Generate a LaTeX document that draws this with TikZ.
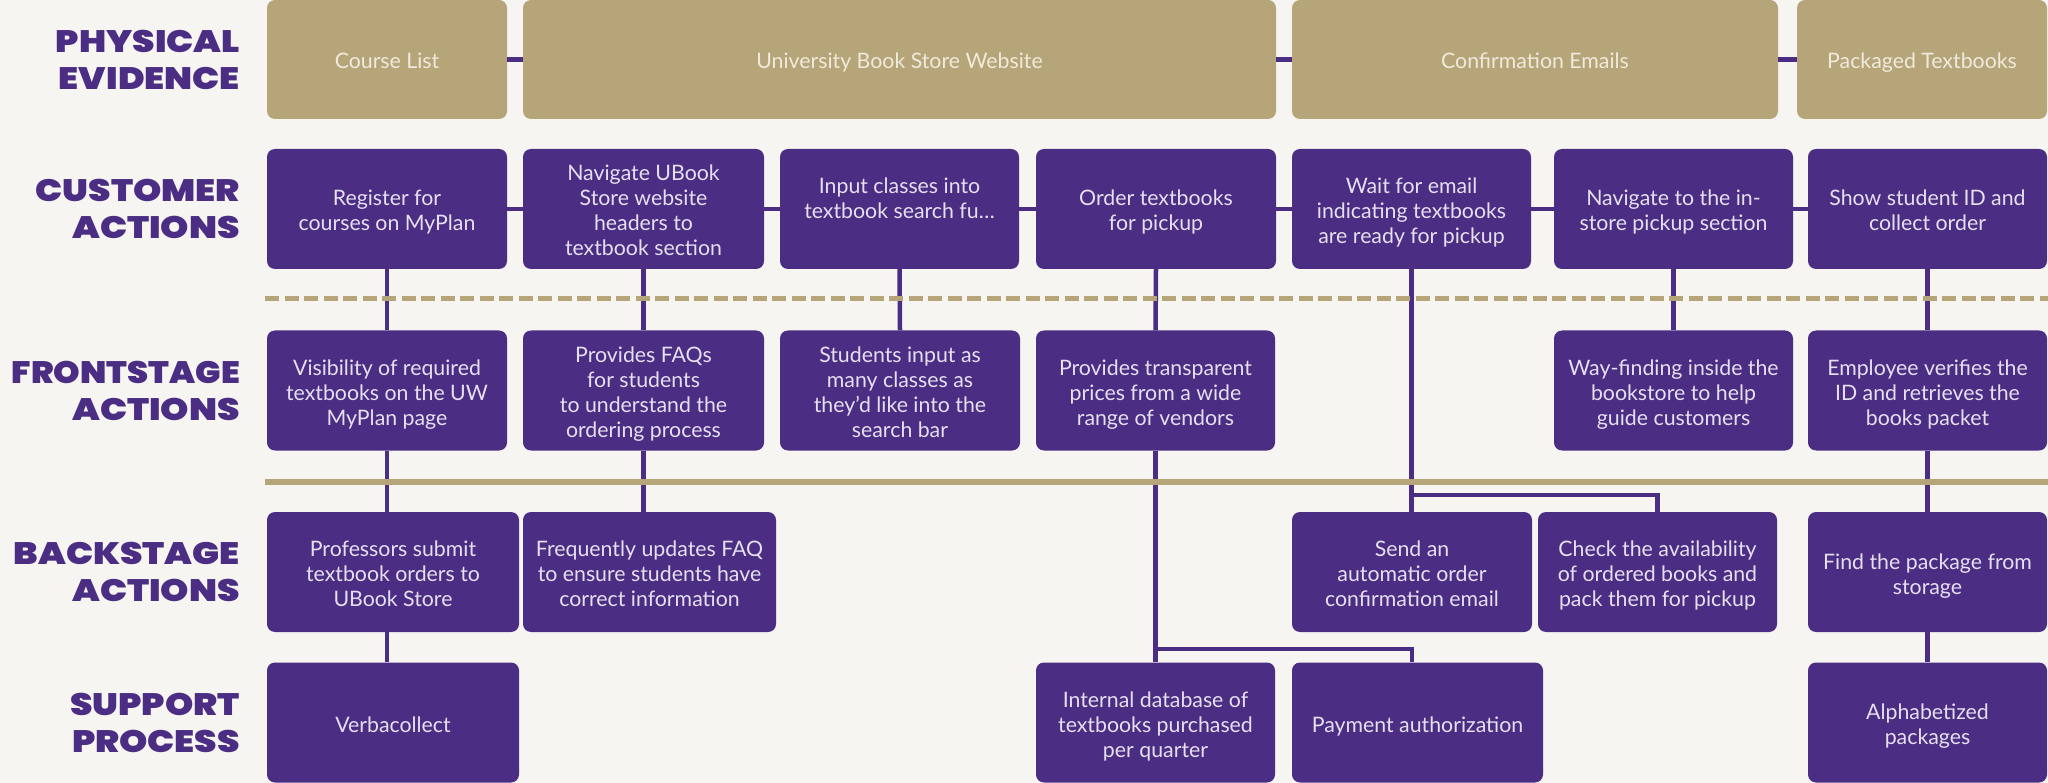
\documentclass[tikz,border=0pt]{standalone}
\usepackage{fontspec}
\setmainfont{Lato}
\newfontfamily\lblfont{Poppins Black}[FakeStretch=1.16]
\newfontfamily\lblfontn{Poppins Black}[FakeStretch=1.09]
\newcommand\tb{\rule{0pt}{24pt}}
\newcommand\te{\rule[-5pt]{0pt}{5pt}}
\definecolor{uwpurple}{HTML}{4B2E83}
\definecolor{uwgold}{HTML}{B7A57A}
\definecolor{bgc}{HTML}{F6F5F1}
\definecolor{lav}{HTML}{E6DFF0}
\definecolor{cream}{HTML}{EFEADC}
\begin{document}
\begin{tikzpicture}[x=1pt,y=-1pt,
  pbox/.style={fill=uwpurple, rounded corners=8pt, text=lav, align=center, inner sep=0pt,
    minimum height=120pt, font=\fontsize{21.3}{25}\selectfont},
  tbox/.style={pbox, fill=uwgold, text=cream, minimum height=119pt},
  bw/.style={minimum width=#1pt},
  lbl/.style={anchor=east, align=right, text=uwpurple, inner sep=0pt,
    font=\lblfont\fontsize{31}{37}\selectfont},
  conn/.style={draw=uwpurple, line width=4.5pt},
  tanline/.style={draw=uwgold, line width=6pt}]
\path[use as bounding box, fill=bgc] (0,0) rectangle (2048,783);

% labels
\node[lbl] (lpe) at (240,59.5) {PHYSICAL\\EVIDENCE};
\node[lbl] (lca) at (240,209) {CUSTOMER\\ACTIONS};
\node[lbl] (lfa) at (240,390.5) {{\lblfontn FRONTSTAGE}\\ACTIONS};
\node[lbl] (lba) at (240,572) {BACKSTAGE\\ACTIONS};
\node[lbl] (lsp) at (240,722.5) {SUPPORT\\PROCESS};

% physical evidence
\node[tbox, bw=240] (pe1) at (387,59.5) {\tb Course List\te};
\node[tbox, bw=753] (pe2) at (899.5,59.5) {\tb University Book Store Website\te};
\node[tbox, bw=486] (pe3) at (1535,59.5) {\tb Confirmation Emails\te};
\node[tbox, bw=250] (pe4) at (1922,59.5) {\tb Packaged Textbooks\te};

% customer actions
\node[pbox, bw=240] (ca1) at (387,209) {\tb Register for\\courses on MyPlan\te};
\node[pbox, bw=241] (ca2) at (643.5,209) {\tb Navigate UBook\\Store website\\headers to\\textbook section\te};
\node[pbox, bw=239] (ca3) at (899.5,209) {\tb Input classes into\\textbook search fu…\\\te};
\node[pbox, bw=240] (ca4) at (1156,209) {\tb Order textbooks\\for pickup\te};
\node[pbox, bw=239] (ca5) at (1411.5,209) {\tb Wait for email\\indicating textbooks\\are ready for pickup\te};
\node[pbox, bw=239] (ca6) at (1673.5,209) {\tb Navigate to the in-\\store pickup section\te};
\node[pbox, bw=239] (ca7) at (1927.5,209) {\tb Show student ID and\\collect order\te};

% frontstage
\node[pbox, bw=240] (fa1) at (387,390.5) {\tb Visibility of required\\textbooks on the UW\\MyPlan page\te};
\node[pbox, bw=241] (fa2) at (643.5,390.5) {\tb Provides FAQs\\for students\\to understand the\\ordering process\te};
\node[pbox, bw=240] (fa3) at (900,390.5) {\tb Students input as\\many classes as\\they’d like into the\\search bar\te};
\node[pbox, bw=239] (fa4) at (1155.5,390.5) {\tb Provides transparent\\prices from a wide\\range of vendors\te};
\node[pbox, bw=239] (fa6) at (1673.5,390.5) {\tb Way-finding inside the\\bookstore to help\\guide customers\te};
\node[pbox, bw=239] (fa7) at (1927.5,390.5) {\tb Employee verifies the\\ID and retrieves the\\books packet\te};

% backstage
\node[pbox, bw=252] (ba1) at (393,572) {\tb Professors submit\\textbook orders to\\UBook Store\te};
\node[pbox, bw=253] (ba2) at (649.5,572) {\tb Frequently updates FAQ\\to ensure students have\\correct information\te};
\node[pbox, bw=240] (ba5) at (1412,572) {\tb Send an\\automatic order\\confirmation email\te};
\node[pbox, bw=239] (ba6) at (1657.5,572) {\tb Check the availability\\of ordered books and\\pack them for pickup\te};
\node[pbox, bw=239] (ba7) at (1927.5,572) {\tb Find the package from\\storage\te};

% support
\node[pbox, bw=252] (sp1) at (393,722.5) {\tb Verbacollect\te};
\node[pbox, bw=239] (sp4) at (1155.5,722.5) {\tb Internal database of\\textbooks purchased\\per quarter\te};
\node[pbox, bw=251] (sp5) at (1417.5,722.5) {\tb Payment authorization\te};
\node[pbox, bw=239] (sp7) at (1927.5,722.5) {\tb Alphabetized\\packages\te};

% horizontal connectors
\draw[conn] (pe1.east) -- (pe2.west);
\draw[conn] (pe2.east) -- (pe3.west);
\draw[conn] (pe3.east) -- (pe4.west);
\draw[conn] (ca1.east) -- (ca2.west);
\draw[conn] (ca2.east) -- (ca3.west);
\draw[conn] (ca3.east) -- (ca4.west);
\draw[conn] (ca4.east) -- (ca5.west);
\draw[conn] (ca5.east) -- (ca6.west);
\draw[conn] (ca6.east) -- (ca7.west);

% vertical connectors
\draw[conn] (ca1.south) -- (fa1.north);
\draw[conn] (fa1.south) -- (fa1.south |- ba1.north);
\draw[conn] (fa1.south |- ba1.south) -- (fa1.south |- sp1.north);
\draw[conn] (ca2.south) -- (fa2.north);
\draw[conn] (fa2.south) -- (fa2.south |- ba2.north);
\draw[conn] (ca3.south) -- (fa3.north);
\draw[conn] (ca4.south) -- (fa4.north);
\draw[conn] (fa4.south) -- (fa4.south |- sp4.north);
\coordinate (j4) at (1155.5,649);
\coordinate (j4b) at (1412,649);
\draw[conn] (j4) -- (j4b) -- (j4b |- sp5.north);
\draw[conn] (ca5.south) -- (ca5.south |- ba5.north);
\coordinate (j5) at (1411.5,495);
\draw[conn] (j5) -- (ba6.north |- j5) -- (ba6.north);
\draw[conn] (ca6.south) -- (fa6.north);
\draw[conn] (ca7.south) -- (fa7.north);
\draw[conn] (fa7.south) -- (ba7.north);
\draw[conn] (ba7.south) -- (sp7.north);

% lane separators
\draw[tanline, line width=5pt, dash pattern=on 14pt off 5.5pt] (265,299) -- (2048,299);
\draw[tanline] (265,482) -- (2048,482);
\end{tikzpicture}
\end{document}
